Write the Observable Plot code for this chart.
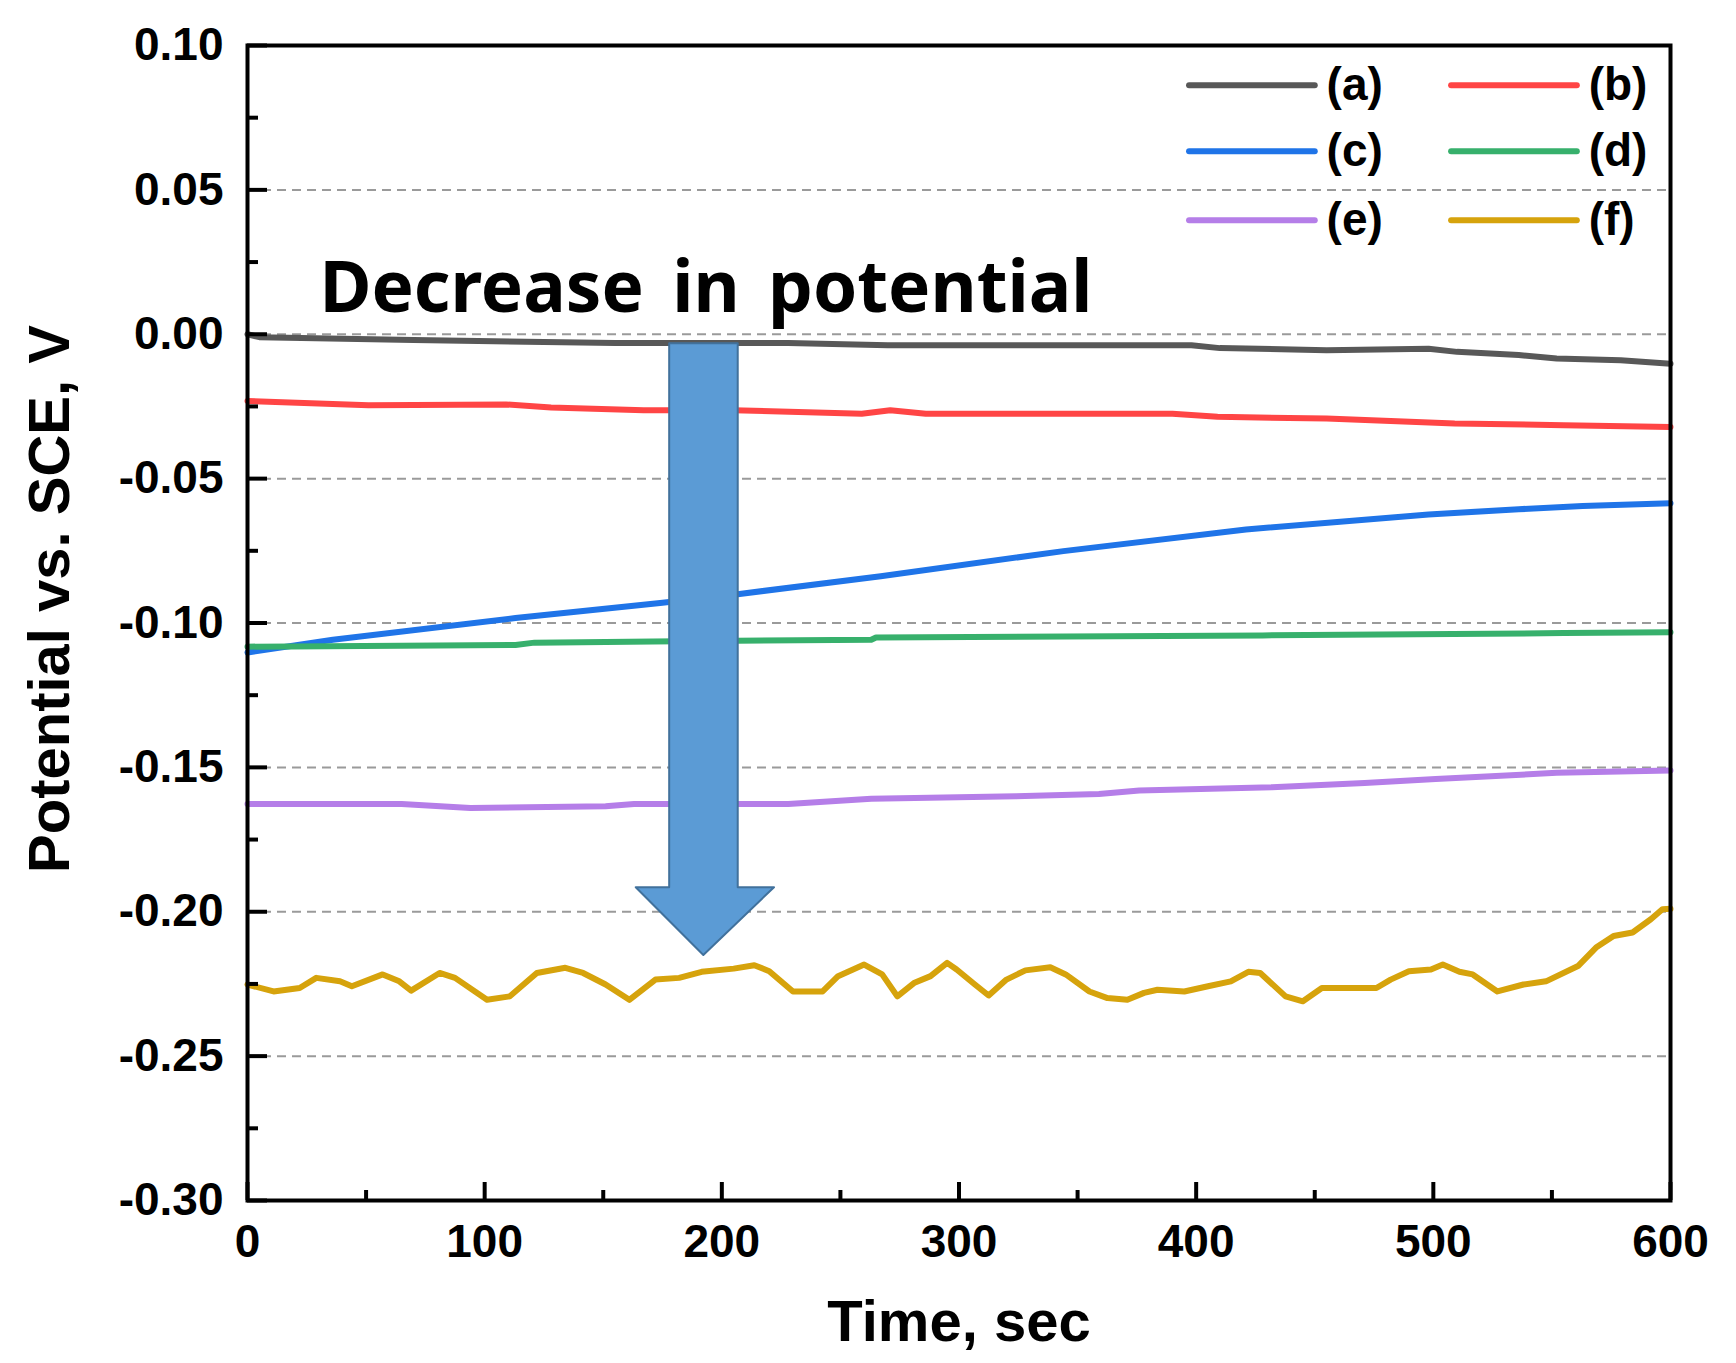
<!DOCTYPE html>
<html>
<head>
<meta charset="utf-8">
<script src="https://cdn.jsdelivr.net/npm/d3@7"></script>
<script src="https://cdn.jsdelivr.net/npm/@observablehq/plot@0.6"></script>
<style>
  body { margin: 0; background: #fff; }
</style>
</head>
<body>
<div id="chart"></div>
<script>
// series (time in s, potential in V vs. SCE)
const timeA = [0, 5, 70, 155, 228, 270, 398, 410, 455, 498, 510, 536, 552, 579, 600];
const potA = [0.000, -0.001, -0.002, -0.003, -0.003, -0.0038, -0.0038, -0.0048, -0.0055, -0.005, -0.0061, -0.0072, -0.0084, -0.009, -0.0102];

const timeB = [0, 51, 109, 128, 167, 205, 259, 271, 286, 390, 409, 455, 509, 555, 600];
const potB = [-0.0231, -0.0246, -0.0243, -0.0254, -0.0263, -0.0263, -0.0275, -0.0263, -0.0275, -0.0275, -0.0286, -0.0292, -0.0309, -0.0315, -0.0321];

const timeC = [0, 36, 113, 174, 205, 267, 344, 421, 498, 536, 563, 600];
const potC = [-0.1102, -0.1058, -0.0983, -0.0931, -0.0902, -0.0838, -0.0751, -0.0676, -0.0624, -0.0606, -0.0595, -0.0585];

const timeD = [0, 113, 121, 171, 263, 265, 428, 555, 600];
const potD = [-0.1082, -0.1076, -0.1068, -0.1064, -0.1058, -0.1050, -0.1043, -0.1035, -0.1032];

const timeE = [0, 65, 94, 151, 163, 228, 263, 324, 359, 376, 432, 471, 501, 552, 600];
const potE = [-0.1627, -0.1627, -0.1641, -0.1635, -0.1627, -0.1627, -0.1609, -0.1600, -0.1592, -0.1580, -0.1569, -0.1554, -0.1540, -0.1519, -0.1511];

const timeF = [0, 11, 22, 29, 39, 44, 57, 64, 69, 81, 87.5, 101, 110.6, 122, 134, 141.5, 151, 161, 172, 182, 191.5, 205, 213.7, 220, 230, 242.5, 249, 260, 267.6, 274, 281, 288, 295,
  299, 306.7, 312.5, 320, 328, 338.5, 345, 355, 362.6, 371, 378, 383.7, 395, 405, 414.6, 422, 427, 437.7, 445, 453, 462.7, 476, 482, 489.7, 499, 504, 511, 516.6, 527, 538, 547.5, 561, 568.6, 576, 584, 591.7, 596.6, 600];
const potF = [-0.2252, -0.2276, -0.2264, -0.2229, -0.2241, -0.2258, -0.2217, -0.2241, -0.2273, -0.2212, -0.2229, -0.2305, -0.2293, -0.2212, -0.2194, -0.2212, -0.2252, -0.2305, -0.2235, -0.2229, -0.2208, -0.2197, -0.2185, -0.2206, -0.2276, -0.2276, -0.2223, -0.2183, -0.2217, -0.2293, -0.2247, -0.2223, -0.2177,
  -0.2200, -0.2252, -0.2290, -0.2235, -0.2203, -0.2192, -0.2217, -0.2276, -0.2299, -0.2305, -0.2281, -0.2270, -0.2276, -0.2258, -0.2241, -0.2208, -0.2212, -0.2293, -0.2310, -0.2264, -0.2264, -0.2264, -0.2235, -0.2206, -0.2200, -0.2183, -0.2208, -0.2217, -0.2276, -0.2252, -0.2241, -0.2188, -0.2124, -0.2084, -0.2072, -0.2026, -0.1991, -0.1990];

const seriesNames = ["(a)", "(b)", "(c)", "(d)", "(e)", "(f)"];
const seriesColors = ["#585858", "#ff4545", "#1f74e8", "#37b06c", "#b57ee8", "#d6a30c"];

// ticks
const xMajor = [0, 100, 200, 300, 400, 500, 600];
const xMinor = [50, 150, 250, 350, 450, 550];
const yMajor = [0.10, 0.05, 0.00, -0.05, -0.10, -0.15, -0.20, -0.25, -0.30];
const yMinor = [0.075, 0.025, -0.025, -0.075, -0.125, -0.175, -0.225, -0.275];
const yGrid = [0.05, 0.00, -0.05, -0.10, -0.15, -0.20, -0.25];

// annotation: big arrow (outline in data units) and its caption
const arrowTime = [177.8, 206.7, 206.7, 222, 192.2, 163.7, 177.8, 177.8];
const arrowPot = [-0.0031, -0.0031, -0.1915, -0.1915, -0.215, -0.1915, -0.1915, -0.0031];
const noteText = "Decrease in potential";

const series = [
  [timeA, potA], [timeB, potB], [timeC, potC],
  [timeD, potD], [timeE, potE], [timeF, potF]
];
const rows = series.flatMap(([ts, vs], i) => ts.map((t, j) => ({t, v: vs[j], name: seriesNames[i]})));
const arrow = arrowTime.map((t, i) => ({t, v: arrowPot[i]}));

// legend layout (2 columns x 3 rows, top right inside the frame)
const legCol = [397, 507.5];
const legRow = [0.0862, 0.0634, 0.0395];
const legend = seriesNames.map((name, i) => {
  const x1 = legCol[i % 2];
  return {name, x1, x2: x1 + 53, y: legRow[Math.floor(i / 2)]};
});

const font = "'Liberation Sans', Arial, sans-serif";

const chart = Plot.plot({
  width: 1736,
  height: 1363,
  marginLeft: 247,
  marginRight: 66,
  marginTop: 45,
  marginBottom: 163,
  style: {fontFamily: font, fontWeight: "bold", fontSize: "46px", color: "black", background: "white"},
  x: {domain: [0, 600]},
  y: {domain: [-0.30, 0.10]},
  color: {domain: seriesNames, range: seriesColors},
  marks: [
    Plot.gridY(yGrid, {stroke: "#9a9a9a", strokeOpacity: 1, strokeWidth: 2, strokeDasharray: "9,6"}),
    Plot.line(rows, {x: "t", y: "v", z: "name", stroke: "name", strokeWidth: 6, strokeLinejoin: "round"}),
    Plot.line(arrow, {x: "t", y: "v", fill: "#5b9bd5", stroke: "#41719c", strokeWidth: 2}),
    Plot.text([noteText], {x: 193.3, y: 0.0077, textAnchor: "middle", lineAnchor: "bottom",
      fontFamily: "'Noto Sans', 'Open Sans', sans-serif", fontWeight: "bold", fontSize: 71}),
    // legend
    Plot.link(legend, {x1: "x1", x2: "x2", y1: "y", y2: "y", stroke: "name", strokeWidth: 6, strokeLinecap: "round"}),
    Plot.text(legend, {x: d => d.x2 + 5, y: "y", text: "name", textAnchor: "start", lineAnchor: "middle", fontSize: 46}),
    // inward ticks
    Plot.axisY(yMajor, {anchor: "left", tickSize: -20, strokeWidth: 4, tickFormat: () => "", label: null}),
    Plot.axisY(yMinor, {anchor: "left", tickSize: -11, strokeWidth: 4, tickFormat: () => "", label: null}),
    Plot.axisX(xMajor, {anchor: "bottom", tickSize: -18, strokeWidth: 4, tickFormat: () => "", label: null}),
    Plot.axisX(xMinor, {anchor: "bottom", tickSize: -10, strokeWidth: 4, tickFormat: () => "", label: null}),
    // tick labels
    Plot.axisY(yMajor, {anchor: "left", tickSize: 0, tickPadding: 24, tickFormat: d => d.toFixed(2), label: null}),
    Plot.axisX(xMajor, {anchor: "bottom", tickSize: 0, tickPadding: 24, tickFormat: d => String(d), label: null}),
    // axis titles
    Plot.text(["Potential vs. SCE, V"], {frameAnchor: "left", dx: -197, dy: -24, rotate: -90,
      textAnchor: "middle", lineAnchor: "middle", fontSize: 58}),
    Plot.text(["Time, sec"], {frameAnchor: "bottom", dy: 122, textAnchor: "middle", lineAnchor: "middle", fontSize: 58}),
    Plot.frame({stroke: "black", strokeWidth: 4})
  ]
});

// the caption in the figure has wide word gaps
d3.select(chart).selectAll("text")
  .filter(function() { return this.textContent === noteText; })
  .style("word-spacing", "10px");

document.getElementById("chart").append(chart);
</script>
</body>
</html>
